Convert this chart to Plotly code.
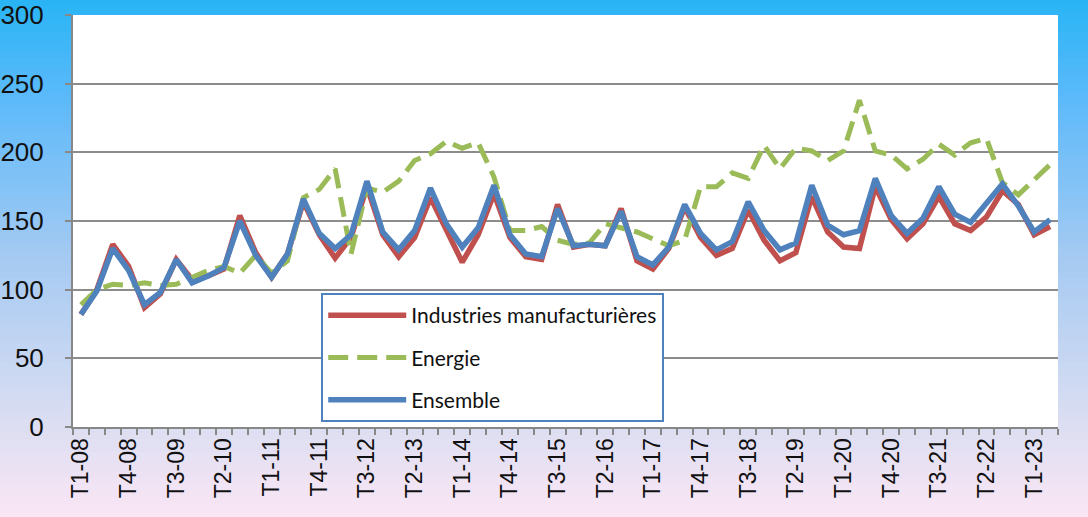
import plotly.graph_objects as go

quarters = [
    "T1-08", "T2-08", "T3-08", "T4-08", "T1-09", "T2-09", "T3-09", "T4-09",
    "T1-10", "T2-10", "T3-10", "T4-10", "T1-11", "T2-11", "T3-11", "T4-11",
    "T1-12", "T2-12", "T3-12", "T4-12", "T1-13", "T2-13", "T3-13", "T4-13",
    "T1-14", "T2-14", "T3-14", "T4-14", "T1-15", "T2-15", "T3-15", "T4-15",
    "T1-16", "T2-16", "T3-16", "T4-16", "T1-17", "T2-17", "T3-17", "T4-17",
    "T1-18", "T2-18", "T3-18", "T4-18", "T1-19", "T2-19", "T3-19", "T4-19",
    "T1-20", "T2-20", "T3-20", "T4-20", "T1-21", "T2-21", "T3-21", "T4-21",
    "T1-22", "T2-22", "T3-22", "T4-22", "T1-23", "T2-23",
]

industries = [
    82, 100, 133, 117, 87, 97, 122, 107, 110, 115, 154, 127,
    109, 126, 164, 140, 123, 138, 175, 140, 124, 138, 167, 143,
    120, 140, 170, 138, 124, 122, 162, 131, 133, 132, 159, 121,
    115, 130, 160, 138, 125, 130, 158, 136, 121, 127, 168, 142,
    131, 130, 175, 151, 137, 148, 168, 148, 143, 153, 172, 162,
    140, 146,
]

energie = [
    89, 100, 104, 103, 105, 103, 104, 109, 114, 117, 112, 125,
    112, 121, 167, 173, 188, 126, 174, 171, 179, 194, 199, 208,
    203, 207, 182, 143, 143, 146, 136, 133, 134, 148, 145, 142,
    137, 132, 136, 175, 175, 185, 181, 205, 188, 203, 201, 194,
    201, 238, 201, 198, 188, 195, 206, 198, 207, 210, 178, 169,
    180, 191,
]

ensemble = [
    82, 99, 130, 114, 89, 98, 122, 105, 110, 116, 150, 125,
    109, 126, 166, 141, 130, 140, 179, 142, 129, 143, 174, 148,
    131, 145, 176, 140, 126, 124, 159, 132, 133, 132, 157, 124,
    118, 131, 162, 141, 129, 135, 164, 143, 129, 134, 176, 147,
    140, 143, 181, 154, 141, 152, 175, 155, 149, 163, 177, 161,
    142, 151,
]

tick_text = [q if i % 3 == 0 else "" for i, q in enumerate(quarters)]

fig = go.Figure()
fig.add_trace(go.Scatter(
    x=quarters, y=industries, mode="lines", name="Industries manufacturières",
    legendgroup="a", line=dict(color="#C0504D", width=5.5),
))
fig.add_trace(go.Scatter(
    x=quarters, y=energie, mode="lines", name="Energie",
    legendgroup="b", line=dict(color="#9BBB59", width=5, dash="20px,9px"),
))
fig.add_trace(go.Scatter(
    x=quarters, y=ensemble, mode="lines", name="Ensemble",
    legendgroup="c", line=dict(color="#4F81BD", width=5.5),
))

# background gradient (paper)
stops = [
    (0.00, (40, 180, 245)),
    (0.20, (95, 186, 250)),
    (0.50, (165, 202, 242)),
    (0.82, (220, 222, 242)),
    (1.00, (250, 230, 245)),
]

def col_at(t):
    for (t0, c0), (t1, c1) in zip(stops[:-1], stops[1:]):
        if t0 <= t <= t1:
            f = (t - t0) / (t1 - t0) if t1 > t0 else 0
            return "rgb(%d,%d,%d)" % tuple(round(a + (b - a) * f) for a, b in zip(c0, c1))
    return "rgb(%d,%d,%d)" % stops[-1][1]

H = 517
top_px, bot_px = 15, 427
n_strips = 80
shapes = []
for k in range(n_strips):
    p0 = k * H / n_strips - (2 if k == 0 else 0)
    p1 = (k + 1) * H / n_strips + (0.8 if k < n_strips - 1 else 4)
    y_top = (bot_px - p0) / (bot_px - top_px)
    y_bot = (bot_px - p1) / (bot_px - top_px)
    shapes.append(dict(
        type="rect", xref="paper", yref="paper", x0=-0.2, x1=1.2,
        y0=y_bot, y1=y_top, fillcolor=col_at((k + 0.5) / n_strips),
        line=dict(width=0), layer="below",
    ))
shapes.append(dict(
    type="rect", xref="paper", yref="paper", x0=0, x1=1, y0=0, y1=1,
    fillcolor="white", line=dict(width=0), layer="below",
))

fig.update_layout(
    width=1088, height=517,
    margin=dict(l=73, r=30, t=15, b=90),
    paper_bgcolor="rgb(200,215,245)",
    plot_bgcolor="white",
    shapes=shapes,
    showlegend=True,
    legend=dict(
        x=0.252, y=0.325, xanchor="left", yanchor="top",
        bgcolor="white", bordercolor="#4F81BD", borderwidth=2,
        font=dict(family="Lato", size=21, color="#111"),
        tracegroupgap=12, itemwidth=78,
    ),
    xaxis=dict(
        type="category", automargin=False,
        tickmode="array", tickvals=quarters, ticktext=tick_text,
        tickson="boundaries", ticks="outside", ticklen=6,
        tickcolor="#888", tickwidth=1.5,
        tickangle=-90,
        showgrid=False,
        showline=True, linecolor="#888", linewidth=2,
        tickfont=dict(family="Liberation Sans", size=23, color="#111"),
        range=[-0.5, len(quarters) - 0.5],
    ),
    yaxis=dict(
        range=[0, 300], dtick=50, tick0=0, automargin=False,
        ticks="outside", ticklen=6, tickcolor="#888", tickwidth=1.5,
        ticklabelstandoff=16,
        showgrid=True, gridcolor="#8C8C8C", gridwidth=2,
        showline=True, linecolor="#888", linewidth=2,
        zeroline=False,
        tickfont=dict(family="Liberation Sans", size=26, color="#111"),
    ),
)

fig.write_html(
    "out.html",
    config={"displayModeBar": False},
    post_script="document.body.style.margin='0';document.body.style.padding='0';document.body.style.overflow='hidden';",
)
